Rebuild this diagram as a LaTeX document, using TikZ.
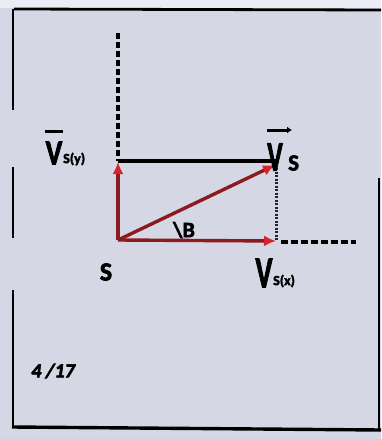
\documentclass[tikz,border=0pt]{standalone}
\usepackage{fontspec}
\setmainfont{Carlito}
\newfontfamily\heavy{Carlito Bold}[FakeBold=2.5]
\newfontfamily\heavyit{Carlito Bold Italic}[FakeBold=3]
\usetikzlibrary{arrows.meta}
\definecolor{paper}{RGB}{214,215,229}
\definecolor{paperlight}{RGB}{236,237,244}
\definecolor{vecred}{RGB}{140,26,30}
\definecolor{tipred}{RGB}{214,36,44}
\tikzset{
  frameline/.style={line width=2.8pt, black},
  redvec/.style={line width=3.4pt, vecred, -{Latex[length=12pt,width=11pt,color=tipred]}},
  blackline/.style={line width=3.4pt, black},
  dashline/.style={line width=3.6pt, black, dash pattern=on 6pt off 3pt},
  dotline/.style={line width=3pt, black!85, dash pattern=on 2pt off 1.5pt},
  lbl/.style={inner sep=0pt, font=\heavy},
}
\newcommand{\bigV}[2]{\scalebox{#2}[1]{\fontsize{#1}{#1}\selectfont V}}
\begin{document}
\begin{tikzpicture}[x=1pt,y=-1pt]
\useasboundingbox (0,0) rectangle (381,439);
\fill[paper] (0,0) rectangle (381,439);
\fill[paperlight] (0,0) rectangle (381,8);
% frame
\draw[frameline] (14,9) -- (381,10);
\draw[frameline] (13,9) -- (13,110);
\draw[frameline] (13,167) -- (13,238);
\draw[frameline] (13,290) -- (13,428);
\draw[line width=3.4pt] (12,427) -- (381,430);
\draw[line width=2.4pt] (379,178) -- (379,430);
% geometry
\coordinate (O) at (118,240);
\coordinate (Ytop) at (118,33);
\coordinate (Y) at (118,161);
\coordinate (X) at (276,241);
\coordinate (P) at (276,161);
\coordinate (Xend) at (356,242);
\draw[dashline] (Ytop) -- (Y);
\draw[blackline] (Y) -- (P);
\draw[dotline] (276,168) -- (X);
\draw[dashline, dash pattern=on 7pt off 3pt] (281,242) -- (Xend);
\draw[redvec] (O) -- (X);
\draw[redvec] (O) -- (118,162);
\draw[redvec] (O) -- (275,165);
% labels
\node[lbl] (Vs) at (275,157) {\bigV{42}{0.62}};
\node[lbl, anchor=west] (Vssub) at (288,163) {\fontsize{23}{23}\selectfont S};
\draw[line width=3pt, -{Latex[length=5pt,width=7pt]}] (267,130) -- (292,130);
\node[lbl] (Vy) at (54,153) {\bigV{35}{0.8}};
\draw[line width=3pt] (45,131) -- (63,131);
\node[lbl, anchor=west] (Vysub) at (63,159) {\fontsize{14}{14}\selectfont S(y)};
\node[lbl] (Vx) at (264,273) {\bigV{44}{0.65}};
\node[lbl, anchor=west] (Vxsub) at (273,281) {\fontsize{14}{14}\selectfont S(x)};
\node[lbl] (S) at (106,272) {\fontsize{26}{26}\selectfont S};
\node[lbl] (beta) at (184,230) {\fontsize{22}{22}\selectfont \textbackslash B};
\node[inner sep=0pt] (fig) at (53,371) {\heavyit\fontsize{20}{20}\selectfont 4 /17};
\end{tikzpicture}
\end{document}
